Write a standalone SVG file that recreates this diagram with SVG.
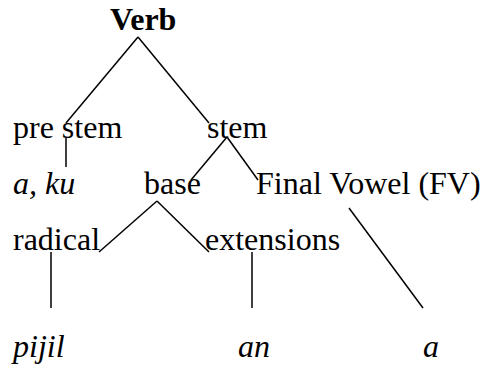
<svg xmlns="http://www.w3.org/2000/svg" width="483" height="371" viewBox="0 0 483 371">
<style>
text{font-family:"Liberation Serif","Times New Roman",serif;font-size:32px;fill:#000}
.b{font-weight:bold}
.i{font-style:italic}
line{stroke:#000;stroke-width:1.5}
</style>
<rect width="483" height="371" fill="#fff"/>
<g id="connectors">
<line x1="138" y1="37" x2="66" y2="123"/>
<line x1="138" y1="37" x2="209" y2="123"/>
<line x1="66" y1="138" x2="66" y2="167"/>
<line x1="227" y1="137" x2="191" y2="180"/>
<line x1="227" y1="137" x2="258" y2="180"/>
<line x1="157" y1="201" x2="99" y2="252"/>
<line x1="157" y1="201" x2="209" y2="252"/>
<line x1="349" y1="208" x2="423" y2="308"/>
<line x1="51" y1="252" x2="51" y2="308"/>
<line x1="252" y1="252" x2="252" y2="308"/>
</g>
<g id="verb"><text class="b" x="110" y="30">Verb</text></g>
<g id="prestem"><text x="13" y="138">pre stem</text></g>
<g id="stem"><text x="207" y="138">stem</text></g>
<g id="aku"><text class="i" x="13" y="194">a, ku</text></g>
<g id="base"><text x="144" y="194">base</text></g>
<g id="fv"><text x="256" y="194">Final Vowel (FV)</text></g>
<g id="radical"><text x="13" y="250">radical</text></g>
<g id="extensions"><text x="205" y="250">extensions</text></g>
<g id="pijil"><text class="i" x="13" y="357">pijil</text></g>
<g id="an"><text class="i" x="238" y="357">an</text></g>
<g id="a"><text class="i" x="423" y="357">a</text></g>
</svg>
